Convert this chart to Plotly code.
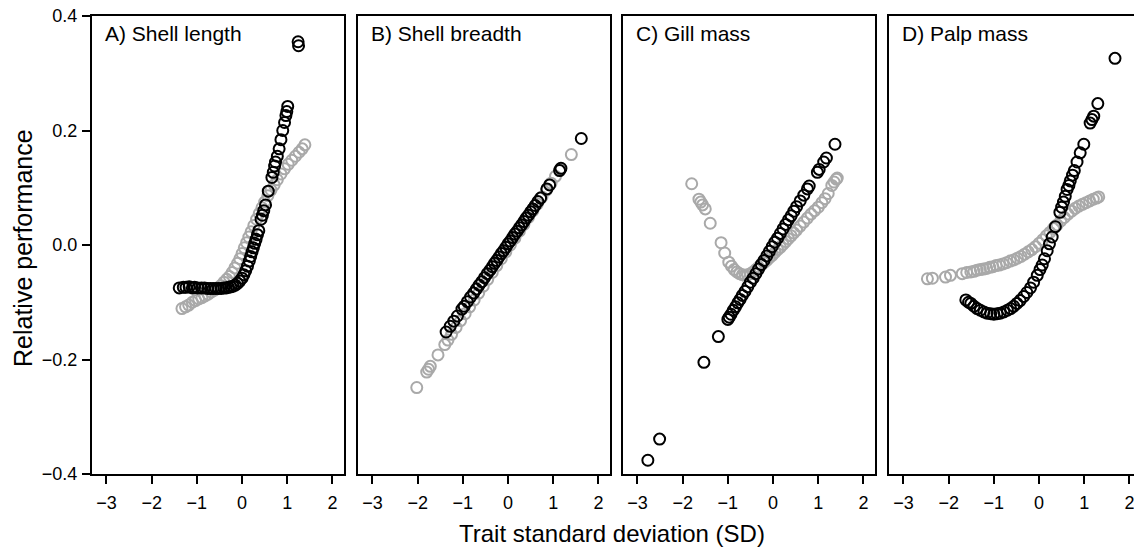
import plotly.graph_objects as go

# ---------------- data ----------------
panel_titles = ["A) Shell length", "B) Shell breadth", "C) Gill mass", "D) Palp mass"]
x_ticks = [-3, -2, -1, 0, 1, 2]
y_ticks = [-0.4, -0.2, 0.0, 0.2, 0.4]

# Panel A - Shell length
a_black_x = [-1.39, -1.30, -1.24, -1.17, -1.10, -1.05, -0.98, -0.90, -0.83, -0.76, -0.70, -0.64,
             -0.58, -0.52, -0.46, -0.40, -0.35, -0.30, -0.25, -0.20, -0.15, -0.10, -0.05, 0.00,
             0.04, 0.08, 0.12, 0.16, 0.19, 0.22, 0.25, 0.28, 0.31, 0.34, 0.37, 0.42, 0.45, 0.48,
             0.52, 0.58, 0.66, 0.69, 0.72, 0.74, 0.78, 0.82, 0.86, 0.90, 0.94, 0.97, 0.99, 1.01,
             1.24, 1.25]
a_black_y = [-0.075, -0.074, -0.074, -0.073, -0.075, -0.074, -0.075, -0.075, -0.075, -0.076, -0.076, -0.076,
             -0.076, -0.076, -0.076, -0.075, -0.075, -0.074, -0.073, -0.072, -0.070, -0.067, -0.063, -0.058,
             -0.052, -0.045, -0.037, -0.028, -0.020, -0.012, -0.005, 0.003, 0.010, 0.018, 0.025, 0.045, 0.052, 0.060,
             0.070, 0.094, 0.118, 0.127, 0.138, 0.145, 0.155, 0.168, 0.184, 0.200, 0.214, 0.226, 0.233, 0.242,
             0.355, 0.348]
a_gray_x = [-1.33, -1.25, -1.18, -1.10, -1.03, -0.96, -0.89, -0.82, -0.75, -0.68, -0.61, -0.54,
            -0.47, -0.40, -0.34, -0.28, -0.22, -0.16, -0.10, -0.05, 0.00, 0.05, 0.10, 0.15,
            0.20, 0.26, 0.32, 0.38, 0.44, 0.50, 0.57, 0.64, 0.71, 0.78, 0.86, 0.94, 1.02,
            1.10, 1.18, 1.26, 1.33, 1.39]
a_gray_y = [-0.111, -0.108, -0.105, -0.100, -0.097, -0.094, -0.092, -0.089, -0.086, -0.082, -0.079, -0.075,
            -0.071, -0.065, -0.060, -0.055, -0.048, -0.040, -0.032, -0.024, -0.015, -0.005, 0.004, 0.014,
            0.023, 0.034, 0.045, 0.055, 0.065, 0.075, 0.086, 0.096, 0.105, 0.114, 0.124, 0.133, 0.141,
            0.148, 0.155, 0.162, 0.168, 0.175]

# Panel B - Shell breadth
b_black_x = [-1.37, -1.28, -1.20, -1.12, -1.02, -0.97, -0.90, -0.83, -0.76, -0.70, -0.64, -0.58,
             -0.52, -0.46, -0.40, -0.35, -0.30, -0.25, -0.20, -0.15, -0.10, -0.05, 0.00, 0.05,
             0.10, 0.15, 0.20, 0.25, 0.30, 0.35, 0.40, 0.45, 0.50, 0.55, 0.60, 0.66, 0.72,
             0.86, 0.92, 1.14, 1.17, 1.62]
b_black_y = [-0.152, -0.142, -0.133, -0.124, -0.112, -0.107, -0.099, -0.091, -0.084, -0.077, -0.070, -0.064,
             -0.057, -0.050, -0.044, -0.038, -0.032, -0.027, -0.021, -0.015, -0.010, -0.004, 0.002, 0.007,
             0.013, 0.019, 0.024, 0.030, 0.035, 0.041, 0.047, 0.052, 0.058, 0.063, 0.069, 0.076, 0.082,
             0.098, 0.105, 0.130, 0.134, 0.186]
b_gray_x = [-2.02, -1.80, -1.76, -1.72, -1.55, -1.40, -1.33, -1.25, -1.15, -1.05, -0.95, -0.85,
            -0.75, -0.65, -0.55, -0.45, -0.35, -0.25, -0.15, -0.05, 0.05, 0.15, 0.25, 0.35,
            0.45, 0.55, 0.65, 0.75, 0.85, 0.95, 1.05, 1.15, 1.40]
b_gray_y = [-0.249, -0.222, -0.217, -0.212, -0.192, -0.174, -0.166, -0.156, -0.144, -0.132, -0.120, -0.108,
            -0.096, -0.084, -0.072, -0.060, -0.048, -0.036, -0.024, -0.012, 0.000, 0.012, 0.024, 0.036,
            0.048, 0.060, 0.072, 0.084, 0.096, 0.108, 0.120, 0.132, 0.158]

# Panel C - Gill mass
c_black_x = [-2.77, -2.51, -1.53, -1.21, -1.00, -0.97, -0.93, -0.88, -0.83, -0.78, -0.73, -0.68,
             -0.62, -0.56, -0.50, -0.44, -0.38, -0.32, -0.26, -0.20, -0.14, -0.08, -0.02, 0.04,
             0.10, 0.16, 0.22, 0.28, 0.34, 0.40, 0.46, 0.52, 0.60, 0.68, 0.76, 0.80, 0.98,
             1.02, 1.12, 1.18, 1.37]
c_black_y = [-0.376, -0.339, -0.205, -0.160, -0.130, -0.126, -0.121, -0.114, -0.108, -0.101, -0.095, -0.088,
             -0.081, -0.073, -0.065, -0.058, -0.050, -0.042, -0.034, -0.027, -0.019, -0.011, -0.003, 0.005,
             0.012, 0.020, 0.028, 0.036, 0.044, 0.051, 0.059, 0.067, 0.077, 0.087, 0.098, 0.103, 0.127,
             0.132, 0.145, 0.152, 0.176]
c_gray_x = [-1.80, -1.64, -1.60, -1.56, -1.50, -1.39, -1.15, -1.07, -0.98, -0.92, -0.86, -0.80,
            -0.74, -0.68, -0.62, -0.56, -0.50, -0.44, -0.38, -0.32, -0.26, -0.20, -0.14, -0.08,
            -0.02, 0.04, 0.10, 0.16, 0.22, 0.28, 0.34, 0.40, 0.46, 0.52, 0.60, 0.68, 0.76,
            0.84, 0.92, 1.00, 1.08, 1.15, 1.22, 1.30, 1.35, 1.40, 1.42]
c_gray_y = [0.107, 0.080, 0.075, 0.070, 0.063, 0.038, 0.004, -0.014, -0.030, -0.037, -0.043, -0.047,
            -0.050, -0.052, -0.053, -0.052, -0.050, -0.047, -0.043, -0.039, -0.035, -0.031, -0.027, -0.022,
            -0.018, -0.013, -0.008, -0.004, 0.001, 0.006, 0.011, 0.016, 0.021, 0.026, 0.033, 0.040, 0.047,
            0.054, 0.060, 0.066, 0.074, 0.081, 0.090, 0.104, 0.110, 0.115, 0.117]

# Panel D - Palp mass
d_black_x = [-1.62, -1.56, -1.51, -1.44, -1.37, -1.30, -1.22, -1.15, -1.07, -1.00, -0.93, -0.86,
             -0.78, -0.70, -0.63, -0.56, -0.49, -0.42, -0.34, -0.27, -0.19, -0.12, -0.04, 0.02,
             0.07, 0.12, 0.18, 0.23, 0.29, 0.36, 0.46, 0.50, 0.54, 0.58, 0.62, 0.66, 0.69,
             0.74, 0.78, 0.84, 0.91, 0.99, 1.13, 1.17, 1.21, 1.30, 1.68]
d_black_y = [-0.096, -0.100, -0.102, -0.107, -0.111, -0.114, -0.117, -0.119, -0.120, -0.121, -0.120, -0.119,
             -0.117, -0.114, -0.111, -0.107, -0.102, -0.097, -0.090, -0.083, -0.075, -0.065, -0.053, -0.043,
             -0.035, -0.024, -0.010, 0.002, 0.014, 0.032, 0.057, 0.066, 0.075, 0.085, 0.097, 0.104, 0.112,
             0.122, 0.130, 0.145, 0.161, 0.176, 0.213, 0.219, 0.225, 0.247, 0.326]
d_gray_x = [-2.47, -2.36, -2.07, -1.96, -1.70, -1.60, -1.51, -1.44, -1.37, -1.30, -1.23, -1.16,
            -1.09, -1.02, -0.95, -0.88, -0.80, -0.72, -0.64, -0.56, -0.48, -0.40, -0.32, -0.24,
            -0.16, -0.08, 0.00, 0.08, 0.16, 0.24, 0.32, 0.40, 0.48, 0.56, 0.64, 0.72, 0.80,
            0.88, 0.96, 1.04, 1.12, 1.20, 1.27, 1.32]
d_gray_y = [-0.059, -0.058, -0.056, -0.053, -0.050, -0.048, -0.047, -0.046, -0.044, -0.043, -0.042, -0.041,
            -0.039, -0.038, -0.036, -0.035, -0.033, -0.031, -0.028, -0.026, -0.023, -0.020, -0.016, -0.012,
            -0.008, -0.003, 0.003, 0.009, 0.016, 0.022, 0.029, 0.035, 0.042, 0.048, 0.054, 0.059, 0.064,
            0.068, 0.071, 0.074, 0.077, 0.080, 0.082, 0.084]

panels = [
    (a_gray_x, a_gray_y, a_black_x, a_black_y),
    (b_gray_x, b_gray_y, b_black_x, b_black_y),
    (c_gray_x, c_gray_y, c_black_x, c_black_y),
    (d_gray_x, d_gray_y, d_black_x, d_black_y),
]

# ---------------- layout ----------------
W, H = 1134, 548
ML, MR, MT, MB = 92, 0, 16, 74
PW = W - ML - MR
PH = H - MT - MB
px_per_unit = 45.2
panel_left_px = [0, 266, 531, 797]
panel_width_px = [252, 252, 252, 245]
x_min = -3.32

FONT = "Liberation Sans, Arial, Helvetica, sans-serif"
GRAY = "#a9a9a9"
TICK_FS = 18
TITLE_FS = 24

fig = go.Figure()
layout = dict(
    width=W, height=H,
    margin=dict(l=ML, r=MR, t=MT, b=MB, pad=0),
    paper_bgcolor="white", plot_bgcolor="white",
    showlegend=False,
    font=dict(family=FONT, size=TICK_FS, color="black"),
)


def fmt_x(v):
    return ("\u2212" + str(-v)) if v < 0 else str(v)


def fmt_y(v):
    return ("\u2212%.1f" % -v) if v < 0 else "%.1f" % v


annotations = []
for i, (gx, gy, bx, by) in enumerate(panels):
    n = "" if i == 0 else str(i + 1)
    xa, ya = "x" + n, "y" + n
    for xs, ys, col in ((gx, gy, GRAY), (bx, by, "black")):
        fig.add_trace(go.Scatter(
            x=xs, y=ys, mode="markers", xaxis=xa, yaxis=ya,
            marker=dict(symbol="circle-open", size=11, color=col,
                        line=dict(width=2, color=col)),
            cliponaxis=False, hoverinfo="skip"))
    d0 = panel_left_px[i] / PW
    d1 = (panel_left_px[i] + panel_width_px[i]) / PW
    x_max = x_min + panel_width_px[i] / px_per_unit
    layout["xaxis" + n] = dict(
        domain=[d0, min(d1, 1.0)], range=[x_min, x_max], anchor=ya,
        tickmode="array", tickvals=x_ticks, ticktext=[fmt_x(v) for v in x_ticks],
        ticks="outside", ticklen=8, tickwidth=2, tickcolor="black",
        ticklabelstandoff=3, ticklabeloverflow="allow",
        showline=True, linewidth=2, linecolor="black", mirror=True,
        showgrid=False, zeroline=False, tickfont=dict(size=TICK_FS, family=FONT),
    )
    yax = dict(
        domain=[0, 1], range=[-0.4, 0.4], anchor=xa,
        showline=True, linewidth=2, linecolor="black", mirror=(i < 3),
        showgrid=False, zeroline=False,
    )
    if i == 0:
        yax.update(tickmode="array", tickvals=y_ticks,
                   ticktext=[fmt_y(v) for v in y_ticks],
                   ticks="outside", ticklen=8, tickwidth=2, tickcolor="black",
                   ticklabelstandoff=1, ticklabeloverflow="allow",
                   tickfont=dict(size=TICK_FS, family=FONT))
    else:
        yax.update(showticklabels=False, ticks="")
    layout["yaxis" + n] = yax
    annotations.append(dict(
        text=panel_titles[i], xref=xa + " domain", yref=ya + " domain",
        x=11 / panel_width_px[i], y=(PH - 17) / PH, xanchor="left", yanchor="middle",
        showarrow=False, font=dict(size=21, family=FONT, color="black")))

annotations.append(dict(
    text="Trait standard deviation (SD)", xref="paper", yref="paper",
    x=(612 - ML) / PW, y=-(533 - (MT + PH)) / PH, xanchor="center", yanchor="middle",
    showarrow=False, font=dict(size=TITLE_FS, family=FONT, color="black")))
annotations.append(dict(
    text="Relative performance", xref="paper", yref="paper",
    x=(23 - ML) / PW, y=(MT + PH - 248) / PH, xanchor="center", yanchor="middle", textangle=-90,
    showarrow=False, font=dict(size=TITLE_FS + 1, family=FONT, color="black")))

layout["annotations"] = annotations
fig.update_layout(**layout)
fig.write_html(
    "out.html",
    config={"displayModeBar": False},
    post_script="document.body.style.margin='0px';document.documentElement.style.overflow='hidden';",
)
